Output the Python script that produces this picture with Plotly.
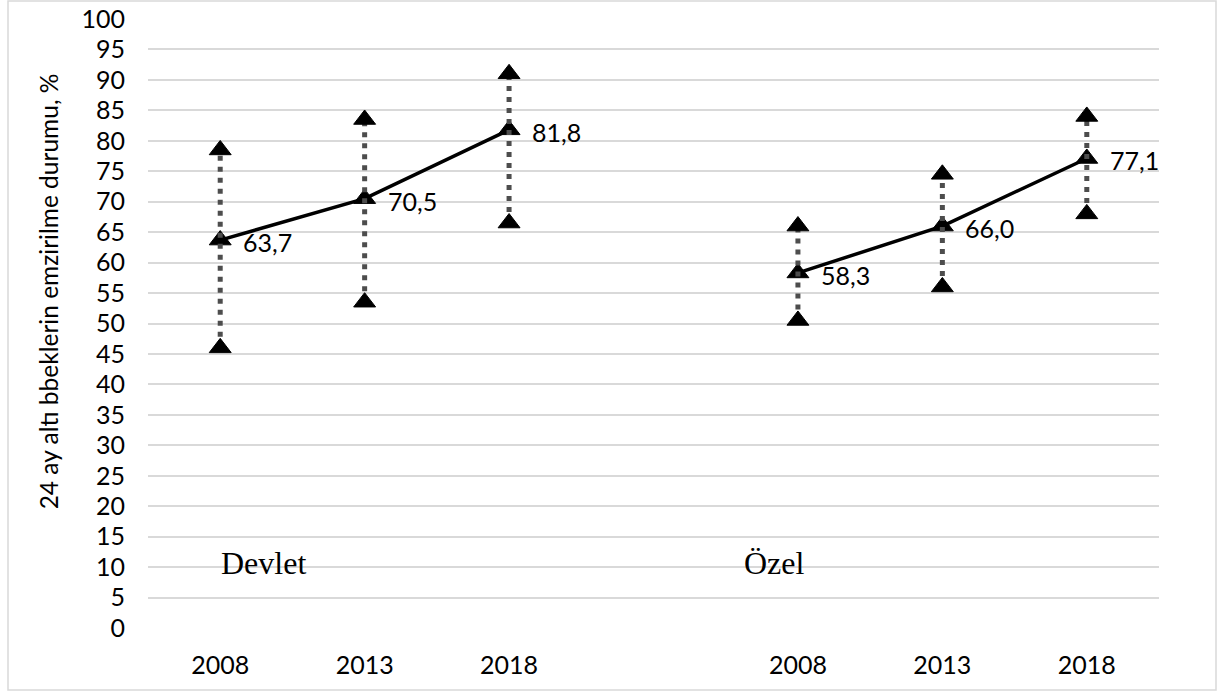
import plotly.graph_objects as go

years = ["2008", "2013", "2018"]
groups = ["Devlet", "Özel"]
devlet_mean = [63.7, 70.5, 81.8]
devlet_lower = [46.0, 53.5, 66.5]
devlet_upper = [78.5, 83.5, 91.0]
ozel_mean = [58.3, 66.0, 77.1]
ozel_lower = [50.5, 56.0, 68.0]
ozel_upper = [66.0, 74.5, 84.0]
y_ticks = list(range(0, 101, 5))
y_title = "24 ay altı bbeklerin emzirilme durumu, %"

FONT = "Lato"
fig = go.Figure()

series = [
    (devlet_mean, devlet_lower, devlet_upper),
    (ozel_mean, ozel_lower, ozel_upper),
]
tickvals, ticktext = [], []
for g, (m, lo, up) in enumerate(series):
    xs = [g * 4 + i for i in range(len(years))]
    tickvals += xs
    ticktext += years
    fig.add_trace(go.Scatter(
        x=xs, y=m, mode="lines+markers",
        line=dict(color="black", width=3.5),
        marker=dict(symbol="triangle-up", size=19, color="black",
                    line=dict(color="black", width=1)),
        cliponaxis=False, showlegend=False, hoverinfo="skip"))
    dx, dy = [], []
    for x, l, u in zip(xs, lo, up):
        dx += [x, x, None]
        dy += [l, u, None]
    fig.add_trace(go.Scatter(
        x=dx, y=dy, mode="lines",
        line=dict(color="#4d4d4d", width=5, dash="5px,6px"),
        showlegend=False, hoverinfo="skip"))
    fig.add_trace(go.Scatter(
        x=xs + xs, y=lo + up, mode="markers",
        marker=dict(symbol="triangle-up", size=19, color="black",
                    line=dict(color="black", width=1)),
        cliponaxis=False, showlegend=False, hoverinfo="skip"))
    for x, v in zip(xs, m):
        fig.add_annotation(x=x, y=v, text=f"{v:.1f}".replace(".", ","),
                           showarrow=False, xanchor="left", yanchor="middle",
                           xshift=21, yshift=-2,
                           font=dict(family=FONT, size=25, color="black"))

# group labels
fig.add_annotation(x=tickvals[0], y=10.7, text=groups[0], showarrow=False,
                   xanchor="left", yanchor="middle", xshift=-1,
                   font=dict(family="Liberation Serif", size=32, color="black"))
fig.add_annotation(x=tickvals[3], y=10.7, text=groups[1], showarrow=False,
                   xanchor="right", yanchor="middle", xshift=9,
                   font=dict(family="Liberation Serif", size=32, color="black"))

# y axis title
fig.add_annotation(xref="paper", yref="paper", x=-0.0988, y=0.553,
                   text=y_title, textangle=-90, showarrow=False,
                   xanchor="center", yanchor="middle",
                   font=dict(family=FONT, size=24.5, color="black"))

# outer border
W, H = 1220, 695
L, R, T, B = 148, 61, 19, 67
pw, ph = W - L - R, H - T - B
fig.add_shape(type="rect", xref="paper", yref="paper",
              x0=(8 - L) / pw, x1=(1216 - L) / pw,
              y0=(H - B - 690) / ph, y1=(H - B - 1) / ph,
              line=dict(color="#d9d9d9", width=1.5), fillcolor="rgba(0,0,0,0)",
              layer="below")

fig.update_layout(
    width=W, height=H,
    margin=dict(l=L, r=R, t=T, b=B),
    plot_bgcolor="white", paper_bgcolor="white",
    xaxis=dict(range=[-0.5, 6.5], tickvals=tickvals, ticktext=ticktext,
               showgrid=False, zeroline=False, showline=False, automargin=False,
               ticks="", tickfont=dict(family=FONT, size=25, color="black"),
               ticklabelstandoff=20),
    yaxis=dict(range=[0, 100], tickvals=y_ticks, automargin=False,
               showgrid=True, gridcolor="#d9d9d9", gridwidth=1.5,
               zeroline=False, showline=False, ticks="",
               tickfont=dict(family=FONT, size=25, color="black"),
               ticklabelstandoff=22),
)

fig.write_html("out.html", config={"displayModeBar": False},
               post_script="document.body.style.margin='0';")
